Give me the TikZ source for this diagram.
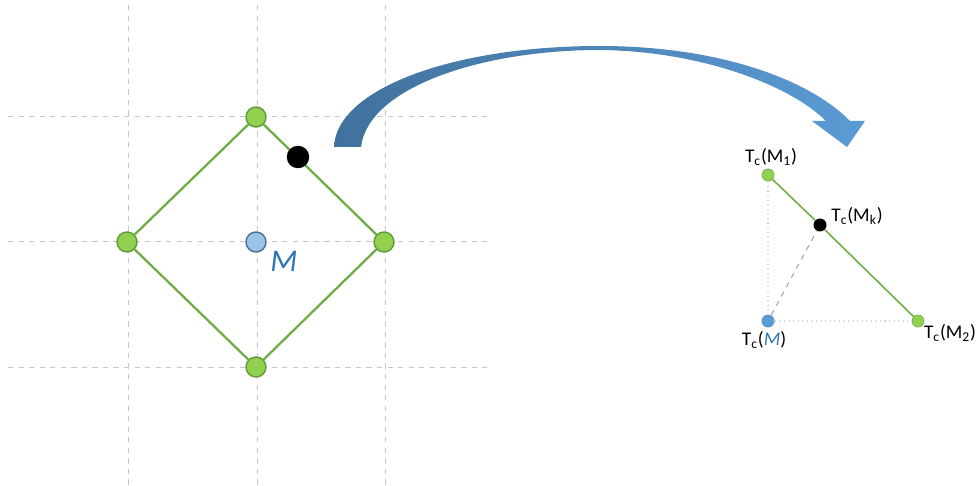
\documentclass[tikz,border=0pt]{standalone}
\usepackage{fontspec}
\setmainfont{Carlito}
\usetikzlibrary{positioning}

\definecolor{dotgreen}{HTML}{92D050}
\definecolor{edgegreen}{HTML}{5E9A3A}
\definecolor{linegreen}{HTML}{70AD47}
\definecolor{lightblue}{HTML}{9DC3E6}
\definecolor{edgeblue}{HTML}{41719C}
\definecolor{midblue}{HTML}{5B9BD5}
\definecolor{textblue}{HTML}{2E75B6}
\definecolor{arrowdark}{HTML}{41719C}
\definecolor{arrowlight}{HTML}{5B9BD5}

\begin{document}
\begin{tikzpicture}[
    x=0.02cm, y=-0.02cm,
    grid/.style={dashed, gray!45, line width=0.5pt},
    bigdot/.style={circle, draw=edgegreen, fill=dotgreen, line width=0.8pt, inner sep=0pt, minimum size=0.4cm},
    smalldot/.style={circle, fill=dotgreen, draw=linegreen, line width=0.4pt, inner sep=0pt, minimum size=0.24cm},
    lbl/.style={font=\fontsize{11}{13}\selectfont, inner sep=1pt}
]
\useasboundingbox (0,0) rectangle (976,486);

% grid
\foreach \gx in {128,257,385} \draw[grid] (\gx,5) -- (\gx,486);
\foreach \gy in {116,241,367} \draw[grid] (8,\gy) -- (487,\gy);

% diamond
\node[bigdot] (top) at (256,117) {};
\node[bigdot] (left) at (127,242) {};
\node[bigdot] (right) at (384,242) {};
\node[bigdot] (bot) at (256,367) {};
\node[circle, draw=edgeblue, fill=lightblue, line width=0.8pt, inner sep=0pt, minimum size=0.4cm] (mid) at (256,242) {};
\node[font=\fontsize{18}{20}\selectfont\itshape, text=textblue] (mlab) at (284,261) {M};

\draw[linegreen, line width=1.3pt] (top) -- (right) -- (bot) -- (left) -- (top);
\node[circle, fill=black, inner sep=0pt, minimum size=0.45cm] (pk) at (298,157) {};

% curved arrow
\path[left color=arrowdark, right color=arrowlight]
    (334,147) .. controls (336,90) and (450,46) .. (600,46)
    .. controls (720,46) and (810,80) .. (850,121)
    -- (865,121) -- (847,147) -- (812,121) -- (826,121)
    .. controls (790,85) and (700,51) .. (600,50)
    .. controls (480,50) and (368,88) .. (361,147) -- cycle;

% projected triangle
\node[smalldot] (tm1) at (768,175) {};
\node[smalldot] (tm2) at (918,321) {};
\node[circle, fill=midblue, inner sep=0pt, minimum size=0.26cm] (tm) at (768,321) {};
\node[circle, fill=black, inner sep=0pt, minimum size=0.26cm] (tmk) at (820,225) {};

\draw[dotted, gray!35, line width=0.6pt] (tm1) -- (tm) -- (tm2);
\draw[dashed, gray!70, line width=0.6pt] (tm) -- (tmk);
\draw[linegreen, line width=0.9pt] (tm1) -- (tmk) -- (tm2);

\node[lbl] (l1) at (771,157) {T\textsubscript{c}(M\textsubscript{1})};
\node[lbl] (lk) at (857,216) {T\textsubscript{c}(M\textsubscript{k})};
\node[lbl] (lm) at (764,340) {T\textsubscript{c}(\textcolor{textblue}{\itshape M})};
\node[lbl] (l2) at (950,333) {T\textsubscript{c}(M\textsubscript{2})};
\end{tikzpicture}
\end{document}
